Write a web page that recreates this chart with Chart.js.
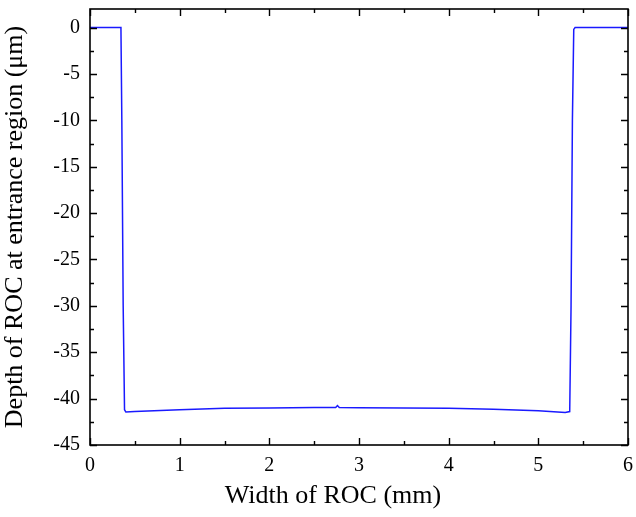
<!DOCTYPE html>
<html>
<head>
<meta charset="utf-8">
<script src="https://cdn.jsdelivr.net/npm/chart.js@4"></script>
<style>
  html, body { margin: 0; padding: 0; background: #fff; }
  #wrap { width: 636px; height: 517px; }
</style>
</head>
<body>
<div id="wrap"><canvas id="rocChart" width="636" height="517"></canvas></div>
<script>
// profile across the width (mm) and depth (um)
const widthMm = [0, 0.1, 0.2, 0.3, 0.345, 0.355, 0.37, 0.385, 0.4, 0.5, 1.0, 1.5, 2.0, 2.5, 2.74, 2.76, 2.78, 3.0, 3.5, 4.0, 4.5, 5.0, 5.3, 5.35, 5.365, 5.38, 5.395, 5.41, 5.5, 6.0];
const depthUm = [0, 0, 0, 0, 0, -10, -30, -41.2, -41.45, -41.4, -41.2, -41.05, -41.0, -40.97, -40.97, -40.75, -40.95, -40.98, -41.0, -41.05, -41.15, -41.3, -41.5, -41.4, -30, -10, -0.2, 0, 0, 0];

const xTicks = [0, 1, 2, 3, 4, 5, 6];
const yTicks = [0, -5, -10, -15, -20, -25, -30, -35, -40, -45];
const xTitle = 'Width of ROC (mm)';

const points = widthMm.map((w, i) => ({ x: w, y: depthUm[i] }));

const serif = "'Liberation Serif', 'Times New Roman', serif";

// box frame with inward major/minor ticks on all four sides, plus the x title
const framePlugin = {
  id: 'frame',
  afterDraw(chart) {
    const { ctx, chartArea: a, scales } = chart;
    const xs = scales.x, ys = scales.y;
    ctx.save();
    ctx.strokeStyle = '#000';
    ctx.lineWidth = 1.6;
    ctx.strokeRect(a.left, a.top, a.right - a.left, a.bottom - a.top);
    ctx.lineWidth = 1.4;
    ctx.beginPath();
    for (let v = 0; v <= 6.001; v += 0.5) {
      const px = Math.round(xs.getPixelForValue(v)) + 0.5;
      const len = Math.abs(v - Math.round(v)) < 1e-6 ? 7 : 4;
      ctx.moveTo(px, a.bottom); ctx.lineTo(px, a.bottom - len);
      ctx.moveTo(px, a.top); ctx.lineTo(px, a.top + len);
    }
    for (let v = -45; v <= 0.001; v += 2.5) {
      const py = Math.round(ys.getPixelForValue(v)) + 0.5;
      const len = Math.abs(v % 5) < 1e-6 ? 7 : 4;
      ctx.moveTo(a.left, py); ctx.lineTo(a.left + len, py);
      ctx.moveTo(a.right, py); ctx.lineTo(a.right - len, py);
    }
    ctx.stroke();

    ctx.fillStyle = '#000';
    ctx.font = '26px ' + serif;
    ctx.textAlign = 'center';
    ctx.textBaseline = 'alphabetic';
    ctx.fillText(xTitle, 333, 503);
    ctx.restore();
  }
};

new Chart(document.getElementById('rocChart'), {
  type: 'scatter',
  data: {
    datasets: [{
      data: points,
      showLine: true,
      borderColor: '#1a1aff',
      borderWidth: 1.5,
      pointRadius: 0,
      tension: 0,
      fill: false,
    }],
  },
  options: {
    responsive: false,
    animation: false,
    layout: { padding: { top: 9, right: 8, left: 0, bottom: 0 } },
    plugins: {
      legend: { display: false },
      tooltip: { enabled: false },
    },
    scales: {
      x: {
        type: 'linear',
        min: 0,
        max: 6,
        afterBuildTicks(scale) { scale.ticks = xTicks.map(v => ({ value: v })); },
        afterFit(scale) {
          scale.height = 72;
          scale.paddingLeft = 0;
          scale.paddingRight = 0;
        },
        grid: { display: false, drawTicks: false },
        border: { display: false },
        ticks: { color: '#000', padding: 9, font: { family: serif, size: 20 } },
        title: { display: false },
      },
      y: {
        min: -45,
        max: 2,
        afterBuildTicks(scale) { scale.ticks = yTicks.map(v => ({ value: v })); },
        afterFit(scale) {
          scale.width = 90;
          scale.paddingTop = 0;
          scale.paddingBottom = 0;
        },
        grid: { display: false, drawTicks: false },
        border: { display: false },
        ticks: { color: '#000', padding: 10, font: { family: serif, size: 20 } },
        title: {
          display: true,
          text: 'Depth of ROC at entrance region (μm)',
          color: '#000',
          font: { family: serif, size: 26 },
          padding: { top: 0, bottom: 4 },
        },
      },
    },
  },
  plugins: [framePlugin],
});
</script>
</body>
</html>
